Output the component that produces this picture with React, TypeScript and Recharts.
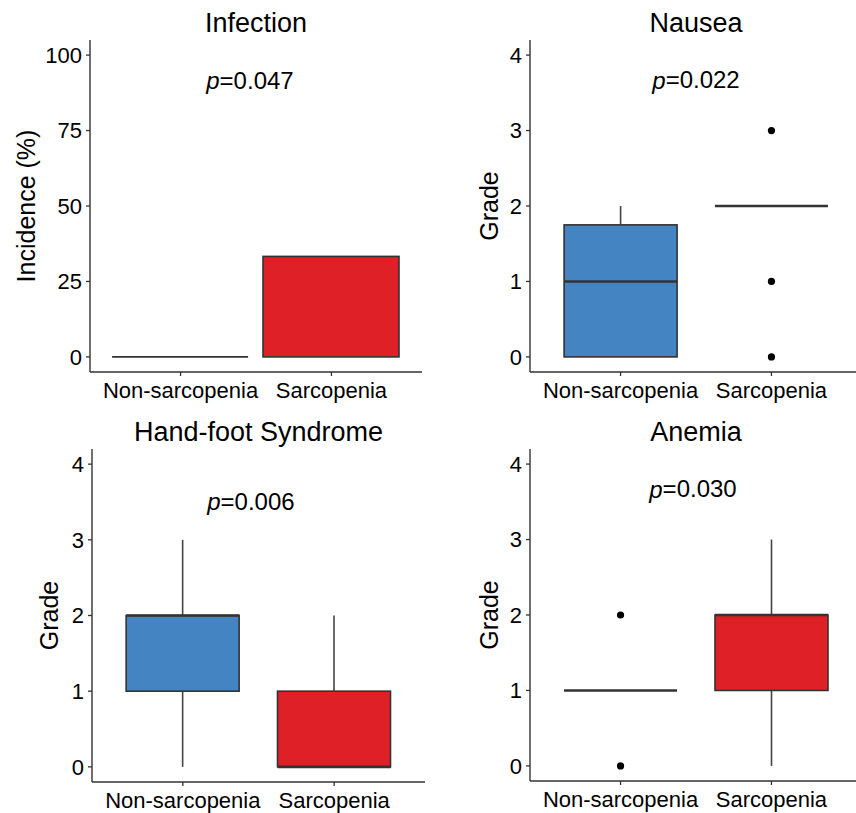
import React from 'react';
import { ComposedChart, Bar, Scatter, XAxis, YAxis, ReferenceDot } from 'recharts';

// ---------- data ----------
const CATEGORIES = ['Non-sarcopenia', 'Sarcopenia'];
const CATEGORY_POS = [1, 2];

const INFECTION_INCIDENCE = [0, 33.3];
const INFECTION_TICKS = [0, 25, 50, 75, 100];
const GRADE_TICKS = [0, 1, 2, 3, 4];

// [min, q1, median, q3, max] per category
const NAUSEA_BOX = [[0, 0, 1, 1.75, 2], [2, 2, 2, 2, 2]];
const NAUSEA_OUTLIERS = [[], [0, 1, 3]];
const HANDFOOT_BOX = [[0, 1, 2, 2, 3], [0, 0, 0, 1, 2]];
const HANDFOOT_OUTLIERS = [[], []];
const ANEMIA_BOX = [[1, 1, 1, 1, 1], [0, 1, 2, 2, 3]];
const ANEMIA_OUTLIERS = [[0, 2], []];

const TITLES = ['Infection', 'Nausea', 'Hand-foot Syndrome', 'Anemia'];
const Y_LABELS = ['Incidence (%)', 'Grade', 'Grade', 'Grade'];
const P_VALUES = ['0.047', '0.022', '0.006', '0.030'];
const P_POS_X = [1.46, 1.5, 1.45, 1.48];
const P_POS_Y = [91.7, 3.67, 3.51, 3.67];

// ---------- styles ----------
const FILLS = ['#4484C2', '#DF2027'];
const LINE = '#333333';
const AXIS = '#333333';
const FONT = '"Liberation Sans", Arial, Helvetica, sans-serif';
const BAR_W = 136;
const BOX_W = 113;

// ---------- builders ----------
const boxTable = (stats: number[][]) =>
  stats.map((s, i) => ({
    x: CATEGORY_POS[i],
    base: s[0],
    lowW: s[1] - s[0],
    box: s[3] - s[1],
    upW: s[4] - s[3],
  }));
const medianTable = (stats: number[][]) => stats.map((s, i) => ({ x: CATEGORY_POS[i], y: s[2] }));
const outlierTable = (outs: number[][]) =>
  outs.flatMap((arr, i) => arr.map((v) => ({ x: CATEGORY_POS[i], y: v })));
const incidenceTable = INFECTION_INCIDENCE.map((v, i) => ({ x: CATEGORY_POS[i], value: v }));

// ---------- shapes ----------
const Empty = () => <g />;

const WhiskerShape = (p: any) => {
  const { x, y, width, height } = p;
  if (!height) return <g />;
  const cx = x + width / 2;
  return <line x1={cx} x2={cx} y1={y} y2={y + height} stroke="#444" strokeWidth={1.6} />;
};

const BoxShape = (p: any) => {
  const { x, y, width, height, payload } = p;
  if (!height) return <g />;
  const fill = FILLS[(payload?.x ?? 1) - 1];
  return <rect x={x} y={y} width={width} height={height} fill={fill} stroke={LINE} strokeWidth={1.6} />;
};

const IncidenceShape = (p: any) => {
  const { x, y, width, height, payload } = p;
  if (!height) {
    return <line x1={x} x2={x + width} y1={y} y2={y} stroke={LINE} strokeWidth={1.8} />;
  }
  const fill = FILLS[(payload?.x ?? 1) - 1];
  return <rect x={x} y={y} width={width} height={height} fill={fill} stroke={LINE} strokeWidth={1.6} />;
};

const MedianShape = (p: any) => {
  const { cx, cy } = p;
  return <line x1={cx - BOX_W / 2} x2={cx + BOX_W / 2} y1={cy} y2={cy} stroke={LINE} strokeWidth={2.6} />;
};

const OutlierShape = (p: any) => <circle cx={p.cx} cy={p.cy} r={3.6} fill="#000" />;

// ---------- panel ----------
type Geo = { cl: number; ct: number; L: number; R: number; T: number; B: number };

function Panel(props: {
  idx: number;
  geo: Geo;
  domain: [number, number];
  ticks: number[];
  yGap: number;
  data: any[];
  children: any;
}) {
  const { idx, geo, domain, ticks, yGap, data } = props;
  const YW = 60;
  const XH = 40;
  const width = geo.R - geo.cl;
  const height = geo.B - geo.ct + XH + 4;
  const margin = { top: geo.T - geo.ct, right: 0, bottom: 4, left: geo.L - geo.cl - YW };
  const yLabel = Y_LABELS[idx];
  const renderYLabel = (lp: any) => {
    const vb = lp.viewBox || {};
    const cx = (vb.x ?? 0) + (vb.width ?? 0) - yGap;
    const cy = (vb.y ?? 0) + (vb.height ?? 0) / 2;
    return (
      <text
        x={cx}
        y={cy}
        transform={`rotate(-90 ${cx} ${cy})`}
        textAnchor="middle"
        dominantBaseline="central"
        fontSize={25}
        fill="#000"
      >
        {yLabel}
      </text>
    );
  };
  const renderP = (lp: any) => {
    const vb = lp.viewBox || {};
    const cx = (vb.x ?? 0) + (vb.width ?? 0) / 2;
    const cy = (vb.y ?? 0) + (vb.height ?? 0) / 2;
    return (
      <text x={cx} y={cy} textAnchor="middle" dominantBaseline="central" fontSize={24} fill="#000">
        <tspan fontStyle="italic">p</tspan>
        {'=' + P_VALUES[idx]}
      </text>
    );
  };
  return (
    <div style={{ position: 'absolute', left: geo.cl, top: geo.ct, width, height }}>
      <ComposedChart width={width} height={height} margin={margin} data={data}>
        <XAxis
          type="number"
          dataKey="x"
          domain={[0.4, 2.6]}
          ticks={CATEGORY_POS}
          allowDataOverflow
          interval={0}
          tickFormatter={(v: number) => CATEGORIES[v - 1]}
          height={XH}
          tickSize={4}
          tickMargin={6}
          tick={{ fontSize: 22, fill: '#000' }}
          axisLine={{ stroke: AXIS, strokeWidth: 1.4 }}
          tickLine={{ stroke: AXIS, strokeWidth: 1.3 }}
        />
        <YAxis
          type="number"
          domain={domain}
          ticks={ticks}
          allowDataOverflow
          interval={0}
          width={YW}
          tickSize={4}
          tickMargin={4}
          tick={{ fontSize: 22, fill: '#000' }}
          axisLine={{ stroke: AXIS, strokeWidth: 1.4 }}
          tickLine={{ stroke: AXIS, strokeWidth: 1.3 }}
          label={renderYLabel}
        />
        {props.children}
        <ReferenceDot
          x={P_POS_X[idx]}
          y={P_POS_Y[idx]}
          r={0.5}
          fill="none"
          stroke="none"
          ifOverflow="visible"
          label={renderP}
        />
      </ComposedChart>
    </div>
  );
}

function boxSeries(stats: number[][], outs: number[][]) {
  const o = outlierTable(outs);
  const items = [
    <Bar key="base" dataKey="base" stackId="s" barSize={BOX_W} shape={Empty} isAnimationActive={false} />,
    <Bar key="lowW" dataKey="lowW" stackId="s" barSize={BOX_W} shape={WhiskerShape} isAnimationActive={false} />,
    <Bar key="box" dataKey="box" stackId="s" barSize={BOX_W} shape={BoxShape} isAnimationActive={false} />,
    <Bar key="upW" dataKey="upW" stackId="s" barSize={BOX_W} shape={WhiskerShape} isAnimationActive={false} />,
    <Scatter key="med" data={medianTable(stats)} dataKey="y" shape={MedianShape} isAnimationActive={false} />,
  ];
  if (o.length) {
    items.push(<Scatter key="out" data={o} dataKey="y" shape={OutlierShape} isAnimationActive={false} />);
  }
  return items;
}

const GEOS: Geo[] = [
  { cl: 0, ct: 0, L: 90, R: 422, T: 40, B: 372 },
  { cl: 428, ct: 0, L: 530, R: 862, T: 40, B: 372 },
  { cl: 0, ct: 406, L: 92, R: 425, T: 449, B: 782 },
  { cl: 428, ct: 406, L: 530, R: 862, T: 449, B: 781 },
];

function Title({ idx }: { idx: number }) {
  const g = GEOS[idx];
  return (
    <div
      style={{
        position: 'absolute',
        left: g.L,
        width: g.R - g.L,
        top: g.T - 30,
        textAlign: 'center',
        fontSize: 27,
        lineHeight: '27px',
        color: '#000',
        whiteSpace: 'nowrap',
      }}
    >
      {TITLES[idx]}
    </div>
  );
}

export default function App() {
  return (
    <div
      style={{
        position: 'absolute',
        left: 0,
        top: 0,
        width: 856,
        height: 813,
        overflow: 'hidden',
        background: '#fff',
        fontFamily: FONT,
      }}
    >
      <Panel idx={0} geo={GEOS[0]} domain={[-5, 105]} ticks={INFECTION_TICKS} yGap={64} data={incidenceTable}>
        <Bar dataKey="value" barSize={BAR_W} shape={IncidenceShape} isAnimationActive={false} />
      </Panel>
      <Panel idx={1} geo={GEOS[1]} domain={[-0.2, 4.2]} ticks={GRADE_TICKS} yGap={41} data={boxTable(NAUSEA_BOX)}>
        {boxSeries(NAUSEA_BOX, NAUSEA_OUTLIERS)}
      </Panel>
      <Panel idx={2} geo={GEOS[2]} domain={[-0.2, 4.2]} ticks={GRADE_TICKS} yGap={43} data={boxTable(HANDFOOT_BOX)}>
        {boxSeries(HANDFOOT_BOX, HANDFOOT_OUTLIERS)}
      </Panel>
      <Panel idx={3} geo={GEOS[3]} domain={[-0.2, 4.2]} ticks={GRADE_TICKS} yGap={41} data={boxTable(ANEMIA_BOX)}>
        {boxSeries(ANEMIA_BOX, ANEMIA_OUTLIERS)}
      </Panel>
      {TITLES.map((_, i) => (
        <Title key={i} idx={i} />
      ))}
    </div>
  );
}
